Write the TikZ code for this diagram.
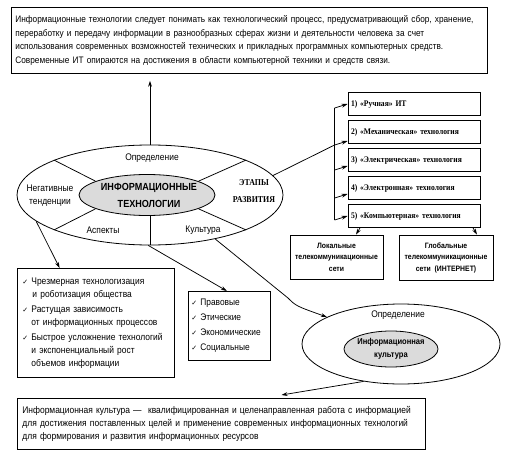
\documentclass[tikz,border=0pt]{standalone}
\usepackage{fontspec}
\setmainfont{Liberation Sans}[FakeStretch=0.88]
\newfontfamily\serifb{Liberation Serif}[FakeStretch=0.88]
\newfontfamily\dejavu{DejaVu Sans}
\usetikzlibrary{shapes.geometric,arrows.meta,calc}
\newcommand{\ck}{\makebox[9pt][l]{{\dejavu\fontsize{7}{7}\selectfont ✓}}}
\tikzset{
  frame/.style={draw, line width=0.8pt, inner sep=0pt},
  stagebox/.style={frame, minimum width=132, minimum height=23, text width=126,
    align=left, font=\serifb\bfseries\fontsize{8.6}{10}\selectfont},
  netbox/.style={frame, align=center, font=\bfseries\fontsize{7.8}{11.5}\selectfont},
  arr/.style={-{Stealth[length=6pt,width=3.8pt]}, line width=0.75pt},
  ln/.style={line width=0.75pt},
  lbl/.style={font=\fontsize{9.6}{13}\selectfont, align=center, inner sep=0pt},
}
\begin{document}
\begin{tikzpicture}[x=1pt,y=-1pt]
\useasboundingbox (0,0) rectangle (505,470);

% top definition box
\node[frame, anchor=north west, minimum width=476, minimum height=66,
  inner xsep=4pt, text width=468, align=left, font=\fontsize{9.4}{13.6}\selectfont] (top) at (11,7)
 {Информационные технологии следует понимать как технологический процесс, предусматривающий сбор, хранение,\\
 переработку и передачу информации в разнообразных сферах жизни и деятельности человека за счет\\
 использования современных возможностей технических и прикладных программных компьютерных средств.\\
 Современные ИТ опираются на достижения в области компьютерной техники и средств связи.};

% big ellipse
\node[ellipse, draw, line width=0.8pt, minimum width=266, minimum height=100, inner sep=0pt] (outer) at (150,195) {};
\node[ellipse, draw, line width=0.8pt, fill=gray!28, minimum width=136, minimum height=41, inner sep=0pt] (inner) at (147,195) {};
\draw[ln] (outer.160) -- (inner.165);
\draw[ln] (outer.20) -- (inner.15);
\draw[ln] (outer.200) -- (inner.195);
\draw[ln] (outer.340) -- (inner.345);
\draw[ln] (outer.south) -- (outer.south |- inner.south);

\node[lbl, font=\bfseries\fontsize{10.3}{17}\selectfont] (itname) at (149,195) {ИНФОРМАЦИОННЫЕ\\ТЕХНОЛОГИИ};
\node[lbl] (ldef) at (152,158) {Определение};
\node[lbl] (lneg) at (50,195.5) {Негативные\\тенденции};
\node[lbl, font=\serifb\bfseries\fontsize{9}{17}\selectfont] (lstage) at (254,191.5) {ЭТАПЫ\\РАЗВИТИЯ};
\node[lbl] (lasp) at (103,230) {Аспекты};
\node[lbl] (lcult) at (203,230) {Культура};

\draw[arr, shorten >=7pt] (outer.north) -- (outer.north |- top.south);

% stages
\node[stagebox] (b1) at (414,104) {1) «Ручная» ИТ};
\node[stagebox] (b2) at (414,132) {2) «Механическая» технология};
\node[stagebox] (b3) at (414,160) {3) «Электрическая» технология};
\node[stagebox] (b4) at (414,188) {4) «Электронная» технология};
\node[stagebox] (b5) at (414,216) {5) «Компьютерная» технология};

\coordinate (brtop) at ($(b1.west)+(-13,4)$);
\coordinate (brbot) at ($(b5.west)+(-13,4)$);
\coordinate (brj) at ($(b2.west)+(-13,13)$);
\draw[ln] (outer.9) -- (brj);
\draw[ln] (brtop) -- (brbot);
\foreach \b/\d in {b1/4,b2/13,b3/10,b4/10,b5/4}{
  \draw[arr] ($(\b.west)+(-13,\d)$) -- ($(\b.west)+(0,\d-4)$);
}

\node[netbox, minimum width=93, minimum height=44] (loc) at (336.5,257)
 {Локальные\\телекоммуникационные\\сети};
\node[netbox, minimum width=94, minimum height=45] (glob) at (446,257.5)
 {Глобальные\\телекоммуникационные\\сети\ \ (ИНТЕРНЕТ)};
\draw[arr] (b5.south -| 360,0) -- (loc.north -| 356,0);
\draw[arr] (b5.south -| 473,0) -- (glob.north -| 477,0);

% negative tendencies
\node[frame, anchor=north west, minimum width=157, minimum height=109,
  inner xsep=5pt, text width=147, align=left, font=\fontsize{9.6}{13}\selectfont] (chk) at (17,268)
 {\ck Чрезмерная технологизация\\
  \hspace*{10pt}и роботизация общества\\[2pt]
  \ck Растущая зависимость\\
  \hspace*{9pt}от информационных процессов\\[2pt]
  \ck Быстрое усложнение технологий\\
  \hspace*{9pt}и экспоненциальный рост\\
  \hspace*{9pt}объемов информации};
\draw[arr] (outer.193) -- ($(chk.north west)!0.27!(chk.north east)$);

% aspects
\node[frame, anchor=north west, minimum width=82, minimum height=69,
  inner xsep=3pt, text width=76, align=left, font=\fontsize{9.5}{15}\selectfont] (asp) at (188,291)
 {\ck Правовые\\ \ck Этические\\ \ck Экономические\\ \ck Социальные};
\draw[arr] (outer.268) -- ($(asp.north west)!0.47!(asp.north east)$);

% information culture ellipse
\node[ellipse, draw, line width=0.8pt, minimum width=198, minimum height=80, inner sep=0pt] (cult) at (401,344) {};
\node[ellipse, draw, line width=0.8pt, fill=gray!28, minimum width=94, minimum height=36, inner sep=0pt] (cultin) at (391,349) {};
\node[lbl, font=\bfseries\fontsize{8.6}{13}\selectfont] (cultname) at (391,348.5) {Информационная\\культура};
\node[lbl] (cdef) at (398,315) {Определение};
\draw[arr] (outer.326) -- (288,298) .. controls (296,306) .. (cult.160);

% bottom definition
\node[frame, anchor=north west, minimum width=405, minimum height=51,
  inner xsep=5pt, text width=398, align=left, font=\fontsize{9.6}{13}\selectfont] (bot) at (17,398)
 {Информационная культура —\ \ квалифицированная и целенаправленная работа с информацией\\
 для достижения поставленных целей и применение современных информационных технологий\\
 для формирования и развития информационных ресурсов};
\draw[arr] (cult.225) -- ($(bot.north west)!0.647!(bot.north east)+(0,-3)$);
\end{tikzpicture}
\end{document}
